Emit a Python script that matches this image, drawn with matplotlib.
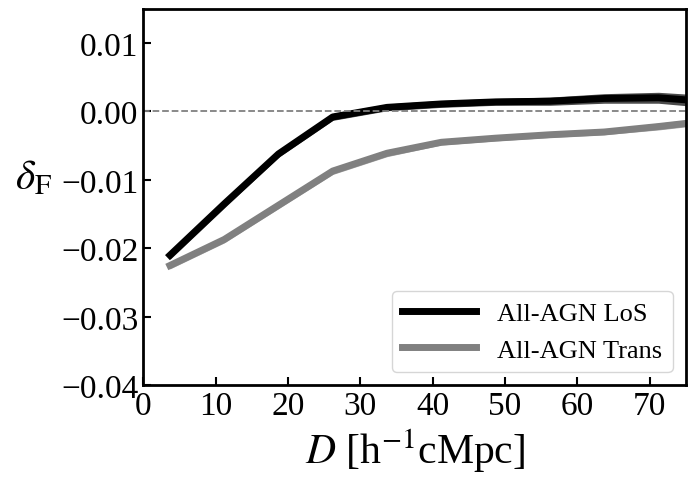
import numpy as np
import matplotlib
matplotlib.use("Agg")
from matplotlib import pyplot as plt

plt.rcParams["font.family"] = "Liberation Serif"
plt.rcParams["mathtext.fontset"] = "stix"

# separations in h^-1 cMpc
dist = [3.7, 11.2, 18.7, 26.2, 33.7, 41.2, 48.7, 56.2, 63.7, 71.2, 78.7]
los_mean = [-0.0210, -0.0135, -0.0062, -0.0008, 0.0006, 0.0011, 0.0014, 0.0015, 0.0019, 0.0020, 0.0014]
los_err = [0.0006, 0.0006, 0.0005, 0.0005, 0.0005, 0.0005, 0.0005, 0.0006, 0.0007, 0.0008, 0.0009]
trans_mean = [-0.0225, -0.0187, -0.0137, -0.0087, -0.0061, -0.0045, -0.0039, -0.0034, -0.0030, -0.0022, -0.0013]
trans_err = [0.0005, 0.0005, 0.0005, 0.0005, 0.0005, 0.0004, 0.0004, 0.0004, 0.0004, 0.0005, 0.0005]

fig, ax = plt.subplots(figsize=(6.95, 4.89), dpi=100)
fig.subplots_adjust(left=0.206, right=0.987, top=0.98, bottom=0.21)

x = np.array(dist)
for m, e, c in [(los_mean, los_err, "black"), (trans_mean, trans_err, "gray")]:
    m = np.array(m); e = np.array(e)
    ax.fill_between(x, m - e, m + e, color=c, alpha=0.7, lw=0)
ax.plot(x, los_mean, color="black", lw=5, label="All-AGN LoS")
ax.plot(x, trans_mean, color="gray", lw=5, label="All-AGN Trans")
ax.axhline(0, color="gray", ls="--", lw=1.3)

ax.set_xlim(0, 75)
ax.set_ylim(-0.04, 0.015)
ax.set_xticks([0, 10, 20, 30, 40, 50, 60, 70])
ax.set_yticks([-0.04, -0.03, -0.02, -0.01, 0.0, 0.01])
ax.set_yticklabels(["\u22120.04", "\u22120.03", "\u22120.02", "\u22120.01", "0.00", "0.01"])
ax.tick_params(direction="in", labelsize=24, width=1.5, length=6, top=False, right=False)
for s in ax.spines.values():
    s.set_linewidth(2)
ax.set_xlabel(r"$D$ [h$^{-1}$cMpc]", fontsize=30)
ax.set_ylabel(r"$\delta_{\rm F}$", fontsize=30, rotation=0, labelpad=20)
ax.legend(loc="lower right", fontsize=19, handlelength=2.8, fancybox=True)

fig.savefig("out.png", dpi=100)
